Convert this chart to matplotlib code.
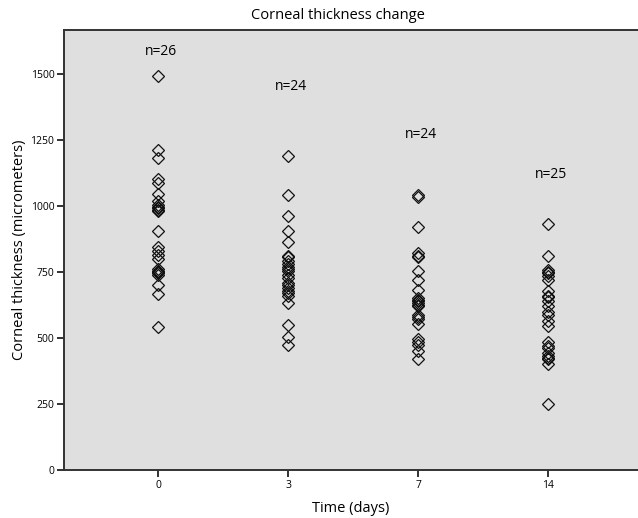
import matplotlib.pyplot as plt
import numpy as np

plt.rcParams['font.family'] = ['Open Sans', 'DejaVu Sans']

# Data
days = ['0', '3', '7', '14']
day0 = [1490, 1212, 1180, 1100, 1085, 1045, 1020, 1005, 995, 990, 985, 980, 903,
        845, 828, 815, 798, 760, 755, 750, 748, 745, 740, 700, 668, 543]
day3 = [1190, 1040, 960, 903, 862, 812, 805, 790, 780, 770, 760, 752, 740, 727,
        708, 700, 690, 676, 670, 658, 633, 550, 505, 472]
day7 = [1042, 1032, 920, 822, 812, 805, 752, 721, 683, 650, 645, 638, 633, 625,
        620, 585, 580, 570, 551, 494, 485, 475, 450, 421]
day14 = [932, 809, 759, 750, 746, 733, 718, 677, 660, 656, 639, 620, 600, 588,
         563, 544, 484, 470, 462, 443, 430, 424, 420, 403, 248]
groups = [day0, day3, day7, day14]
n_label_y = [1583, 1451, 1269, 1118]

fig = plt.figure(figsize=(6.38, 5.18), dpi=100)
ax = fig.add_axes([0.1003, 0.0927, 0.8997, 0.849])
ax.set_facecolor('#dfdfdf')

for i, vals in enumerate(groups):
    ax.plot(np.full(len(vals), i), vals, linestyle='none', marker='D',
            markersize=5.8, markerfacecolor='none', markeredgecolor='#111111',
            markeredgewidth=0.9)
    ax.text(i + 0.02, n_label_y[i], 'n=%d' % len(vals), ha='center', va='center',
            fontsize=10)

ax.set_xlim(-0.723, 3.692)
ax.set_ylim(0, 1665)
ax.set_xticks(range(len(days)))
ax.set_xticklabels(days)
ax.set_yticks([0, 250, 500, 750, 1000, 1250, 1500])
ax.tick_params(axis='both', direction='out', length=5, width=1.3, labelsize=7.5,
               color='#222222', pad=2)

for side in ['left', 'bottom', 'top']:
    ax.spines[side].set_linewidth(1.4)
    ax.spines[side].set_color('#333333')
ax.spines['right'].set_visible(False)

ax.set_xlabel('Time (days)', fontsize=10.5)
ax.xaxis.set_label_coords(0.5, -0.07)
ax.set_ylabel('Corneal thickness (micrometers)', fontsize=10.5)
ax.yaxis.set_label_coords(-0.065, 0.5)
fig.text(0.53, 0.97, 'Corneal thickness change', ha='center', va='center',
         fontsize=10.5)

plt.savefig('out.png', dpi=100)
